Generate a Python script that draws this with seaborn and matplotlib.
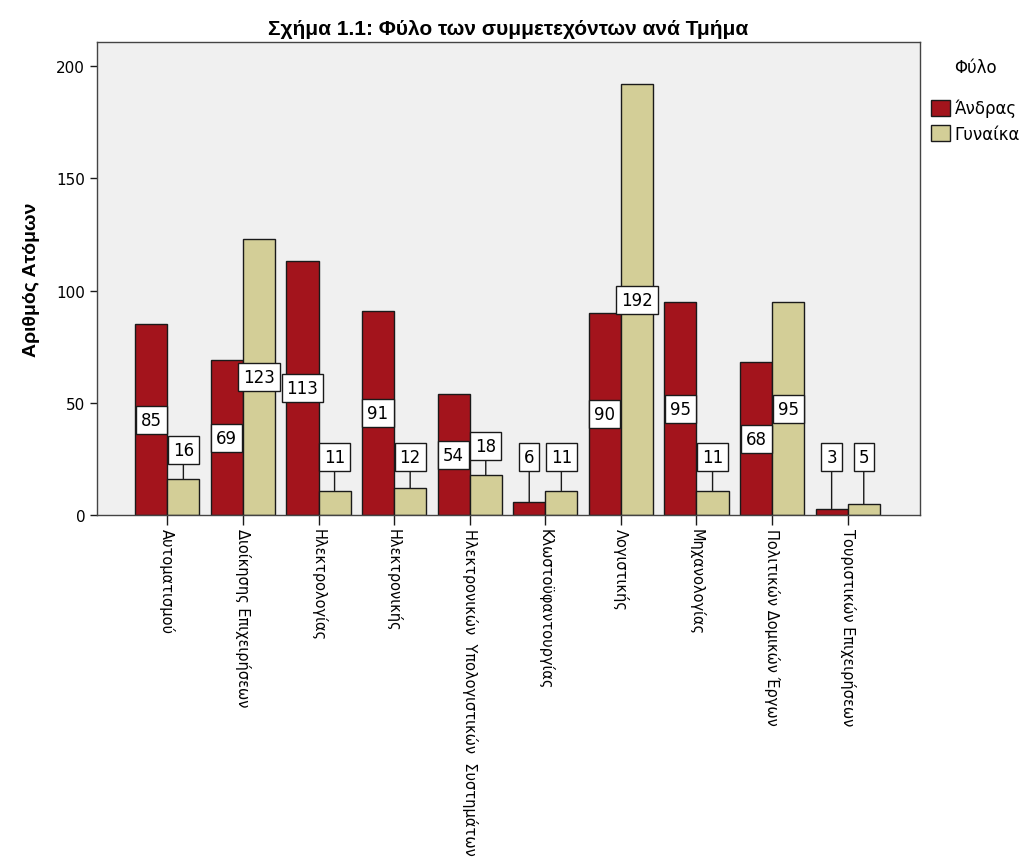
import numpy as np
import pandas as pd
import matplotlib
matplotlib.use("Agg")
import matplotlib.pyplot as plt
import seaborn as sns

# data
departments = [
    "Αυτοματισμού", "Διοίκησης Επιχειρήσεων", "Ηλεκτρολογίας", "Ηλεκτρονικής",
    "Ηλεκτρονικών  Υπολογιστικών  Συστημάτων", "Κλωστοϋφαντουργίας",
    "Λογιστικής", "Μηχανολογίας", "Πολιτικών Δομικών Έργων",
    "Τουριστικών Επιχειρήσεων",
]
men = [85, 69, 113, 91, 54, 6, 90, 95, 68, 3]
women = [16, 123, 11, 12, 18, 11, 192, 11, 95, 5]
genders = ["Άνδρας", "Γυναίκα"]

df = pd.DataFrame({
    "Τμήμα": departments * 2,
    "Φύλο": [genders[0]] * len(departments) + [genders[1]] * len(departments),
    "Αριθμός": men + women,
})

sns.set_style("white")
plt.rcParams["font.family"] = ["DejaVu Sans"]
plt.rcParams["text.color"] = "black"
plt.rcParams["axes.labelcolor"] = "black"
plt.rcParams["xtick.color"] = "black"
plt.rcParams["ytick.color"] = "black"

fig = plt.figure(figsize=(10.32, 8.62), dpi=100)
ax = fig.add_axes([0.094, 0.401, 0.797, 0.549])
ax.set_facecolor("#F0F0F0")

palette = {"Άνδρας": "#A3141C", "Γυναίκα": "#D3CE97"}
sns.barplot(data=df, x="Τμήμα", y="Αριθμός", hue="Φύλο", order=departments,
            hue_order=genders, palette=palette, width=0.85, saturation=1,
            edgecolor="#1a1a1a", linewidth=1.0, ax=ax, legend=True)

box = dict(boxstyle="square,pad=0.3", fc="white", ec="#1a1a1a", lw=1)

# value labels in boxes, leader line for small bars
for cont in ax.containers:
    for bar in cont:
        h = bar.get_height()
        xc = bar.get_x() + bar.get_width() / 2
        if h >= 30:
            ax.text(xc, h / 2, f"{int(h)}", ha="center", va="center", fontsize=12, bbox=box)
        else:
            ty = max(h + 13, 26)
            ax.annotate(f"{int(h)}", xy=(xc, h), xytext=(xc, ty),
                        ha="center", va="center", fontsize=12, bbox=box,
                        arrowprops=dict(arrowstyle="-", color="#1a1a1a", lw=1,
                                        shrinkA=0, shrinkB=0))

ax.set_xlim(-0.93, 9.95)
ax.set_ylim(0, 210.5)
ax.set_yticks([0, 50, 100, 150, 200])
ax.tick_params(axis="y", labelsize=11, length=5, width=1, direction="out", left=True, color="#1a1a1a")
ax.tick_params(axis="x", length=7, width=1, direction="out", bottom=True, color="#1a1a1a", pad=2)
ax.set_xticks(range(len(departments)))
ax.set_xticklabels(departments, rotation=270, ha="center", va="top", fontsize=10.5)

for s in ax.spines.values():
    s.set_visible(True)
    s.set_color("#444444")
    s.set_linewidth(1)

ax.set_xlabel("")
ax.set_ylabel("Αριθμός Ατόμων", fontsize=14, fontweight="bold", family="Liberation Sans", labelpad=12)
ax.set_title("Σχήμα 1.1: Φύλο των συμμετεχόντων ανά Τμήμα", fontsize=15, fontweight="bold",
             family="Liberation Sans", pad=6)

leg = ax.legend(title="Φύλο", loc="upper left", bbox_to_anchor=(1.0, 0.99), frameon=False,
                fontsize=12, title_fontsize=12, handlelength=1.1, handleheight=1.1,
                handletextpad=0.3, borderaxespad=0.3, labelspacing=0.45)
leg._legend_box.sep = 16
for p in leg.get_patches():
    p.set_edgecolor("#1a1a1a")

fig.savefig("out.png", dpi=100)
